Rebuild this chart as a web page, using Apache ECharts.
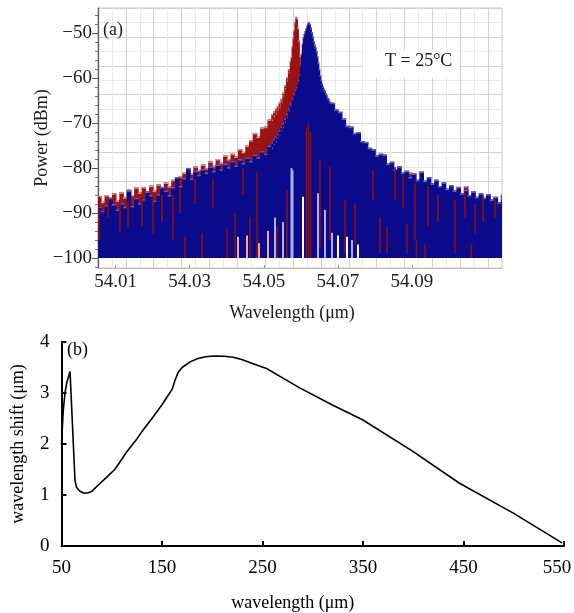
<!DOCTYPE html>
<html><head><meta charset="utf-8">
<script src="https://cdn.jsdelivr.net/npm/echarts@6/dist/echarts.min.js"></script>
<style>html,body{margin:0;padding:0;background:#fff}#c{width:574px;height:613px}</style>
</head><body><div id="c"></div>
<script>
// ---------- Panel (a): optical spectra, values in dBm ----------
const floorDb = -100;
const coarseStart = 54.005, coarseStep = 0.001;   // sample grid of the wings
const redCoarse = [
  -86.2,-87.5,-86.0,-87.0,-85.6,-87.2,-85.4,-86.5,-84.8,-86.0,
  -84.3,-85.4,-84.2,-85.5,-83.9,-85.0,-83.6,-84.5,-83.2,-84.0,
  -82.6,-83.5,-81.8,-81.0,-80.2,-81.2,-79.6,-80.4,-79.2,-80.0,
  -78.5,-79.5,-78.0,-78.8,-77.2,-78.0,-76.8,-77.4,-75.8,-76.4,
  -75.0,-73.8,-72.2,-73.0,-71.0,-70.8,-69.2,
  null,null,null,null,null,null,null,null,null,null,null,null,null,null,null,null,
  -76.0,-76.8,-77.2,-77.8,-78.2,-78.8,-79.0,-79.6,-80.0,-80.4,
  -80.6,-81.0,-81.2,-81.6,-81.8,-82.2,-82.0,-82.6,-82.4,-83.0,
  -82.6,-81.0,-83.2,-83.6,-83.0,-84.0,-83.8,-84.4,-84.0,-84.8,
  -84.4,-85.0,-84.6,-85.4,-85.0,-85.8,-84.0,-86.2,-85.8,-86.6,
  -86.2,-86.8,-86.4,-87.2,-86.6,-87.6,-85.8
];
const blueCoarse = [
  -88.5,-89.5,-88.2,-86.6,-88.0,-89.2,-87.8,-88.6,-85.0,-88.4,
  -86.6,-87.8,-86.9,-85.2,-86.0,-87.2,-85.8,-84.2,-85.0,-86.0,
  -84.2,-82.0,-84.0,-82.2,-80.0,-82.3,-80.6,-81.5,-80.2,-81.0,
  -79.6,-80.6,-79.2,-80.3,-79.0,-79.8,-78.4,-79.4,-78.0,-78.9,
  -77.6,-78.4,-77.0,-77.6,-76.2,-76.8,-75.0,
  null,null,null,null,null,null,null,null,null,null,null,null,null,null,null,null,
  -65.5,-67.0,-67.5,-69.0,-70.6,-70.8,-72.2,-72.0,-74.0,-74.2,
  -75.5,-75.8,-77.2,-76.8,-77.0,-79.0,-78.6,-80.2,-79.6,-81.0,
  -80.6,-82.0,-81.2,-82.6,-80.8,-82.8,-82.0,-83.4,-82.6,-84.0,
  -83.2,-84.6,-83.8,-85.0,-84.2,-85.6,-84.8,-86.0,-85.2,-86.4,
  -85.6,-86.6,-85.8,-87.0,-86.4,-87.6,-86.8
];
const fineStart = 54.052, fineStep = 0.00025;     // finer grid around the two peaks
const redFine = [
  -68.0,-69.2,-67.4,-68.4,-66.8,-67.8,-66.2,-67.0,-65.4,-66.4,
  -64.6,-65.2,-63.2,-63.8,-61.6,-62.2,-59.8,-60.4,-58.0,-58.6,
  -56.2,-55.4,-53.0,-51.2,-49.4,-47.6,-46.4,-46.6,-48.8,-51.6,
  -55.0,-57.4,-59.6,-62.0,-63.6,-65.0,-66.0,-66.8,-67.6,-68.2,
  -68.8,-69.4,-70.0,-70.6,-71.0,-71.4,-71.8,-72.2,-72.6,-73.0,
  -73.2,-73.6,-73.8,-74.2,-74.4,-74.8,-75.0,-75.2,-75.4,-75.6,
  -75.8,-76.0,-76.2,-76.4
];
const blueFine = [
  -74.2,-75.4,-73.6,-74.6,-73.0,-74.0,-72.4,-73.2,-71.6,-72.6,
  -70.8,-71.6,-70.0,-70.8,-69.0,-69.6,-68.0,-68.6,-66.8,-67.2,
  -65.6,-66.0,-64.4,-64.6,-63.4,-63.6,-62.6,-62.0,-61.0,-60.4,
  -59.2,-57.0,-54.6,-52.4,-51.0,-50.2,-49.6,-49.0,-48.4,-47.8,
  -47.6,-48.0,-48.8,-49.8,-50.8,-51.8,-52.6,-53.2,-54.0,-55.2,
  -56.6,-58.0,-59.4,-60.4,-61.2,-61.8,-62.4,-62.8,-63.4,-63.8,
  -64.4,-64.6,-65.2,-65.4
];
// [wavelength, top dBm, bottom dBm] of individual comb lines visible in front
const redStreaks = [
  [54.00552,-86.4,-96.0],[54.00795,-87.1,-91.0],[54.01119,-87.1,-94.4],[54.01335,-87.5,-93.0],
  [54.01713,-86.4,-93.0],[54.02010,-86.0,-94.5],[54.02252,-86.0,-92.0],[54.02549,-86.0,-96.0],
  [54.02738,-84.2,-90.0],[54.02873,-95.3,-100],[54.03143,-82.5,-88.0],[54.03332,-94.5,-100],
  [54.03629,-82.5,-89.0],[54.04007,-93.5,-100],[54.04223,-90.0,-100],[54.04439,-80.0,-86.0],
  [54.04628,-90.9,-100],[54.04816,-81.0,-100],[54.05356,-93.0,-100],[54.05626,-85.0,-100],
  [54.06152,-71.0,-100],[54.06206,-70.0,-100],[54.06260,-72.0,-100],[54.06517,-78.2,-97.8],
  [54.06787,-79.8,-96.0],[54.07192,-87.1,-98.9],[54.07462,-88.0,-97.0],[54.07947,-80.4,-87.1],
  [54.08136,-91.0,-98.9],[54.08325,-93.0,-99.0],[54.08541,-79.8,-87.1],[54.08757,-81.5,-89.0],
  [54.08865,-92.5,-99.0],[54.09081,-83.3,-96.0],[54.09432,-84.0,-93.0],[54.09702,-86.0,-92.0],
  [54.10160,-87.1,-98.9],[54.10430,-85.5,-91.0],[54.10700,-88.0,-94.5],[54.10916,-86.0,-92.0],
  [54.11240,-87.0,-91.0],[54.09120,-96.0,-100],[54.09350,-97.0,-100],[54.10600,-97.0,-100]
];
const paleBlueStreaks = [
  [54.05748,-80.0,-100],[54.05775,-80.5,-100],[54.05518,-92.0,-100],[54.05302,-91.0,-100],
  [54.06463,-85.6,-100],[54.06652,-89.3,-100],[54.06841,-94.4,-100],[54.07381,-96.0,-100]
];
const paleRedStreaks = [
  [54.04870,-96.7,-100],[54.05113,-94.0,-100],[54.04547,-95.0,-100],[54.04304,-95.3,-100]
];
const whiteStreaks = [
  [54.06058,-86.4,-100],[54.07003,-95.0,-100],[54.07246,-95.3,-100],[54.07543,-97.0,-100]
];
const powerTicks = [-100,-90,-80,-70,-60,-50];
const powerMinorTicks = [-102,-98,-96,-94,-92,-88,-86,-84,-82,-78,-76,-74,-72,-68,-66,-64,-62,-58,-56,-54,-52,-48,-46];
const wlTicks = [54.01,54.03,54.05,54.07,54.09];

// ---------- Panel (b): wavelength shift ----------
const shiftX = [50,51.8,53.5,55.2,58.5,63.4,65,68,72,76,80,88,95,103,110,115,125,131,140,150,156,160,163,166,170,178,185,192,198,205,212,221,230,240,254,267,287,320,350,400,446,500,548];
const shiftY = [2.0,2.67,3.0,3.2,3.42,1.29,1.15,1.08,1.04,1.04,1.07,1.22,1.35,1.5,1.7,1.85,2.1,2.27,2.5,2.77,2.95,3.07,3.25,3.4,3.5,3.61,3.67,3.705,3.72,3.725,3.72,3.70,3.65,3.58,3.48,3.33,3.10,2.76,2.47,1.85,1.23,0.64,0.06];

// ---------- build ----------
const FONT = 'Liberation Serif';
function bars(start, step, vals) {
  const out = [];
  vals.forEach((v, i) => { if (v !== null) out.push([start + i * step, start + (i + 1) * step, v]); });
  return out;
}
function barRender(body, cap) {
  return function (params, api) {
    const a = api.coord([api.value(0), api.value(2)]);
    const b = api.coord([api.value(1), floorDb]);
    const w = b[0] - a[0] + 0.9, h = b[1] - a[1];
    return { type: 'group', children: [
      { type: 'rect', shape: { x: a[0], y: a[1], width: w, height: h }, style: { fill: body } },
      { type: 'rect', shape: { x: a[0], y: a[1], width: w, height: Math.min(1.6, h) }, style: { fill: cap } }
    ]};
  };
}
function streakRender(color, width) {
  return function (params, api) {
    const a = api.coord([api.value(0), api.value(1)]);
    const b = api.coord([api.value(0), api.value(2)]);
    return { type: 'rect', shape: { x: a[0] - width / 2, y: a[1], width: width, height: b[1] - a[1] }, style: { fill: color } };
  };
}
const RED = '#9c1313', RED_CAP = '#d98a82', BLUE = '#0b0b8c', BLUE_CAP = '#5a5acb';
function custom(data, render) {
  return { type: 'custom', xAxisIndex: 0, yAxisIndex: 0, clip: true, silent: true,
    encode: { x: 0, y: 1 }, data: data, renderItem: render };
}
const chart = echarts.init(document.getElementById('c'), null, { renderer: 'canvas' });
const minus = v => String(v).replace('-', '\u2212');
chart.setOption({
  animation: false,
  backgroundColor: '#fff',
  grid: [
    { left: 98, top: 8, width: 404, height: 260, show: true, borderColor: '#c4c4c4', borderWidth: 1,
      outerBoundsMode: 'none', containLabel: false },
    { left: 61.5, top: 342, width: 502.5, height: 204, outerBoundsMode: 'none', containLabel: false }
  ],
  xAxis: [
    { type: 'value', gridIndex: 0, min: 54.00525, max: 54.1143, position: 'bottom',
      name: 'Wavelength (\u03bcm)', nameLocation: 'middle', nameGap: 36, nameMoveOverlap: false,
      nameTextStyle: { fontFamily: FONT, fontSize: 18, color: '#1a1a1a', padding: [0, 16, 0, 0] },
      axisLine: { show: true, lineStyle: { color: '#bdbdbd', width: 1 } },
      axisTick: { show: true, inside: true, length: 3, customValues: wlTicks, lineStyle: { color: '#999' } },
      axisLabel: { customValues: wlTicks, formatter: v => v.toFixed(2), margin: 5,
        fontFamily: FONT, fontSize: 19, color: '#1a1a1a' },
      splitLine: { show: false } },
    { type: 'value', gridIndex: 0, min: 0, max: 29, interval: 1, position: 'top',
      axisLine: { show: false }, axisTick: { show: false }, axisLabel: { show: false },
      splitLine: { show: true, lineStyle: { color: ['#d2d2d2', '#e9e9e9'], width: 1 } } },
    { type: 'value', gridIndex: 1, min: 50, max: 550, interval: 100,
      name: 'wavelength (\u03bcm)', nameLocation: 'middle', nameGap: 48, nameMoveOverlap: false,
      nameTextStyle: { fontFamily: FONT, fontSize: 18, color: '#000', padding: [0, 40, 0, 0] },
      axisLine: { show: true, onZero: false, lineStyle: { color: '#000', width: 2 } },
      axisTick: { show: true, inside: true, length: 5, lineStyle: { color: '#000', width: 2 } },
      axisLabel: { margin: 13, fontFamily: FONT, fontSize: 19, color: '#000',
        formatter: v => v === 550 ? '{last|' + v + '}' : String(v),
        rich: { last: { fontFamily: FONT, fontSize: 19, color: '#000', padding: [0, 14, 0, 0] } } },
      splitLine: { show: false } }
  ],
  yAxis: [
    { type: 'value', gridIndex: 0, min: -102.22, max: -44.44, position: 'left',
      name: 'Power (dBm)', nameLocation: 'middle', nameGap: 47, nameMoveOverlap: false,
      nameTextStyle: { fontFamily: FONT, fontSize: 18, color: '#1a1a1a' },
      axisLine: { show: true, lineStyle: { color: '#555', width: 1.2 } },
      axisTick: { show: true, length: 6, customValues: powerTicks, lineStyle: { color: '#555' } },
      axisLabel: { customValues: powerTicks, formatter: minus, margin: 6,
        fontFamily: FONT, fontSize: 19, color: '#1a1a1a' },
      splitLine: { show: false } },
    { type: 'value', gridIndex: 0, min: -102.22, max: -44.44, position: 'left',
      axisLine: { show: false },
      axisTick: { show: true, length: 3, customValues: powerMinorTicks, lineStyle: { color: '#777' } },
      axisLabel: { show: false }, splitLine: { show: false } },
    { type: 'value', gridIndex: 0, min: 0, max: 18, interval: 1, position: 'right',
      axisLine: { show: false }, axisTick: { show: false }, axisLabel: { show: false },
      splitLine: { show: true, lineStyle: { color: ['#d2d2d2', '#e9e9e9'], width: 1 } } },
    { type: 'value', gridIndex: 1, min: 0, max: 4, interval: 1,
      name: 'wavelength shift (\u03bcm)', nameLocation: 'middle', nameGap: 34,
      nameTextStyle: { fontFamily: FONT, fontSize: 18, color: '#000' },
      axisLine: { show: true, onZero: false, lineStyle: { color: '#000', width: 2 } },
      axisTick: { show: true, inside: true, length: 5, lineStyle: { color: '#000', width: 2 } },
      axisLabel: { margin: 12, fontFamily: FONT, fontSize: 19, color: '#000' },
      splitLine: { show: false } }
  ],
  series: [
    custom(bars(coarseStart, coarseStep, redCoarse), barRender(RED, RED_CAP)),
    custom(bars(fineStart, fineStep, redFine), barRender(RED, RED_CAP)),
    custom(bars(coarseStart, coarseStep, blueCoarse), barRender(BLUE, BLUE_CAP)),
    custom(bars(fineStart, fineStep, blueFine), barRender(BLUE, BLUE_CAP)),
    custom(paleBlueStreaks, streakRender('#aab0ea', 2)),
    custom(paleRedStreaks, streakRender('#e8aaa4', 2)),
    custom(whiteStreaks, streakRender('#fbfbff', 2)),
    custom(redStreaks, streakRender('#8a1010', 1.6)),
    { type: 'line', xAxisIndex: 2, yAxisIndex: 3, showSymbol: false, smooth: false, silent: true,
      lineStyle: { color: '#000', width: 1.6 },
      data: shiftX.map((x, i) => [x, shiftY[i]]) }
  ],
  graphic: [
    { type: 'text', left: 103, top: 21, z: 50, style: { text: '(a)', font: '18px "Liberation Serif"', fill: '#1a1a1a' } },
    { type: 'rect', left: 363, top: 50, z: 49, shape: { width: 96, height: 28 }, style: { fill: '#fff' } },
    { type: 'text', left: 385, top: 52, z: 50, style: { text: 'T = 25\u00b0C', font: '18px "Liberation Serif"', fill: '#1a1a1a' } },
    { type: 'text', left: 67, top: 341, z: 50, style: { text: '(b)', font: '18px "Liberation Serif"', fill: '#000' } }
  ]
});
</script></body></html>
